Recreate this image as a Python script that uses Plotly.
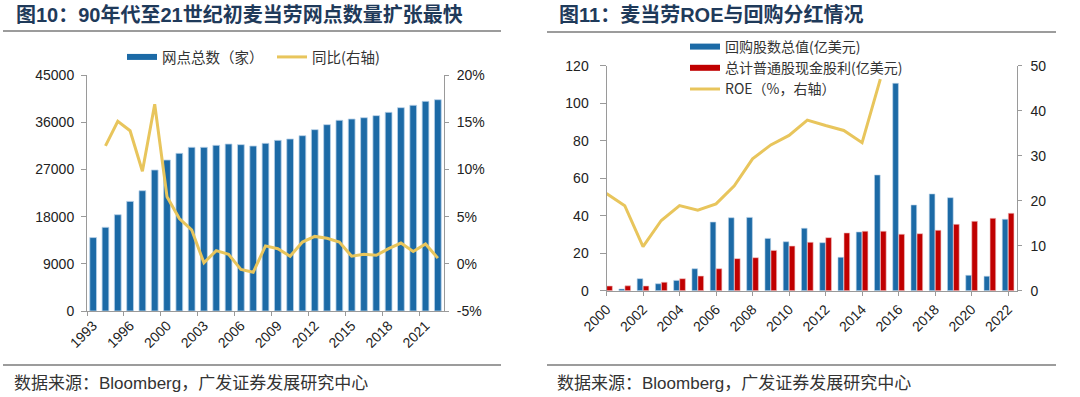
import plotly.graph_objects as go

W, H = 1080, 397

# ---------------- Left chart data (图10) ----------------
store_years = list(range(1993, 2022))
store_counts = [14000, 15960, 18360, 20900, 22940, 26890, 28790, 30060, 31210, 31210,
                31590, 31840, 31720, 31460, 31970, 32540, 32800, 33430, 34580, 35530,
                36360, 36610, 36860, 37250, 37880, 38770, 39220, 39980, 40290]
store_yoy = [None, 12.5, 15.1, 14.1, 9.8, 16.9, 7.1, 4.8, 3.6, 0.1,
             1.4, 1.0, -0.6, -0.9, 1.9, 1.6, 0.8, 2.3, 2.9, 2.7,
             2.3, 0.8, 1.0, 0.9, 1.6, 2.2, 1.3, 2.1, 0.6]
left_tick_labels = ["1993", "1996", "2000", "2003", "2006", "2009", "2012", "2015", "2018", "2021"]
left_y_ticks = [0, 9000, 18000, 27000, 36000, 45000]
left_y2_ticks = [-5, 0, 5, 10, 15, 20]
left_y2_labels = ["-5%", "0%", "5%", "10%", "15%", "20%"]

# ---------------- Right chart data (图11) ----------------
fin_years = list(range(2000, 2023))
buyback = [0, 0.9, 6.4, 3.7, 5.5, 11.7, 36.6, 38.9, 39.1, 27.9, 26.1, 33.3, 25.6,
           17.8, 31.3, 61.7, 110.6, 45.7, 51.6, 49.6, 8.2, 7.7, 38.1]
dividend = [2.5, 2.6, 2.5, 4.5, 6.4, 7.8, 11.7, 17.1, 17.6, 21.5, 23.8, 25.8, 28.3,
            30.8, 31.7, 31.7, 30.1, 30.4, 32.2, 35.4, 37.0, 38.6, 41.3]
roe = [21.6, 18.9, 9.8, 15.6, 18.9, 17.9, 19.3, 23.3, 29.3, 32.4, 34.5, 37.9, 36.7,
       35.6, 32.9, 47.0, None, None, None, None, None, None, None]

BLUE = "#1C6AA6"
RED = "#C00000"
GOLD = "#E8C55C"
AXIS = "#9A9A9A"
TXT = "#222222"
FONT = "Liberation Sans, Arial, Noto Sans CJK SC"
CJK = "Noto Sans CJK SC, Liberation Sans"

fig = go.Figure()

# left chart
xi = list(range(len(store_years)))
fig.add_trace(go.Bar(x=xi, y=store_counts, width=0.55, marker=dict(color=BLUE, line=dict(color="#B9D2E8", width=0.8)),
                     xaxis="x", yaxis="y", showlegend=False, name="网点总数（家）"))
fig.add_trace(go.Scatter(x=xi, y=store_yoy, mode="lines", line=dict(color=GOLD, width=3),
                         xaxis="x", yaxis="y2", showlegend=False, name="同比(右轴)"))
fig.add_trace(go.Scatter(x=[None], y=[None], mode="lines", line=dict(color=BLUE, width=6),
                         name="网点总数（家）", xaxis="x", yaxis="y", legend="legend"))
fig.add_trace(go.Scatter(x=[None], y=[None], mode="lines", line=dict(color=GOLD, width=3),
                         name="同比(右轴)", xaxis="x", yaxis="y", legend="legend"))

# right chart
xj = list(range(len(fin_years)))
fig.add_trace(go.Bar(x=xj, y=buyback, width=0.31, offset=-0.32, marker=dict(color=BLUE, line=dict(color="#B9D2E8", width=0.6)),
                     xaxis="x2", yaxis="y3", showlegend=False, name="回购股数总值(亿美元)"))
fig.add_trace(go.Bar(x=xj, y=dividend, width=0.31, offset=0.01, marker=dict(color=RED, line=dict(color="#F0C0C0", width=0.6)),
                     xaxis="x2", yaxis="y3", showlegend=False, name="总计普通股现金股利(亿美元)"))
fig.add_trace(go.Scatter(x=xj, y=roe, mode="lines", line=dict(color=GOLD, width=3),
                         xaxis="x2", yaxis="y4", showlegend=False, name="ROE（%，右轴）"))
fig.add_trace(go.Scatter(x=[None], y=[None], mode="lines", line=dict(color=BLUE, width=6),
                         name="回购股数总值(亿美元)", xaxis="x2", yaxis="y3", legend="legend2"))
fig.add_trace(go.Scatter(x=[None], y=[None], mode="lines", line=dict(color=RED, width=6),
                         name="总计普通股现金股利(亿美元)", xaxis="x2", yaxis="y3", legend="legend2"))
fig.add_trace(go.Scatter(x=[None], y=[None], mode="lines", line=dict(color=GOLD, width=3),
                         name="ROE（%，右轴）", xaxis="x2", yaxis="y3", legend="legend2"))

axis_common = dict(showgrid=False, zeroline=False, showline=True, linecolor=AXIS, linewidth=1,
                   tickcolor=AXIS, automargin=False, tickfont=dict(family=FONT, size=14, color=TXT))

fig.update_layout(
    width=W, height=397, margin=dict(l=0, r=0, t=0, b=0, autoexpand=False),
    paper_bgcolor="white", plot_bgcolor="white", barmode="overlay",
    xaxis=dict(domain=[87 / W, 444 / W], anchor="y", range=[-0.5, 28.5],
               tickmode="array", tickvals=xi[::3], ticktext=left_tick_labels, tickangle=-45,
               ticks="", minor=dict(tickmode="array", tickvals=[v - 0.5 for v in xi[::3]],
                                    ticks="outside", ticklen=4, tickcolor=AXIS),
               **axis_common),
    yaxis=dict(domain=[1 - 311 / H, 1 - 75 / H], anchor="x", range=[0, 45000],
               tickmode="array", tickvals=left_y_ticks, ticktext=[str(v) for v in left_y_ticks],
               ticks="outside", ticklen=5, ticklabelstandoff=4, **axis_common),
    yaxis2=dict(overlaying="y", side="right", anchor="x", range=[-5, 20],
                tickmode="array", tickvals=left_y2_ticks, ticktext=left_y2_labels,
                ticks="outside", ticklen=4, ticklabelstandoff=5, **axis_common),
    xaxis2=dict(domain=[606.5 / W, 1016.7 / W], anchor="y3", range=[0, 22.47],
                tickmode="array", tickvals=xj[::2], ticktext=[str(y) for y in fin_years[::2]],
                tickangle=-45, ticks="outside", ticklen=4, **axis_common),
    yaxis3=dict(domain=[1 - 290.7 / H, 1 - 65.7 / H], anchor="x2", range=[0, 120],
                tickmode="linear", tick0=0, dtick=20, ticks="outside", ticklen=6,
                ticklabelstandoff=8, **axis_common),
    yaxis4=dict(overlaying="y3", side="right", anchor="x2", range=[0, 50],
                tickmode="linear", tick0=0, dtick=10, ticks="outside", ticklen=4,
                ticklabelstandoff=6, **axis_common),
    legend=dict(orientation="h", x=122 / W, xanchor="left", y=1 - 57 / H, yanchor="middle",
                entrywidth=105, itemwidth=30, bgcolor="rgba(0,0,0,0)",
                font=dict(family=CJK, size=14.5, color="#333333")),
    legend2=dict(orientation="v", x=685 / W, xanchor="left", y=1 - 31 / H, yanchor="top",
                 itemwidth=30, bgcolor="rgba(0,0,0,0)", tracegroupgap=0,
                 font=dict(family=CJK, size=14, color="#333333")),
)

title_font = dict(family=FONT, size=20, color="#1F3A5A")
src_font = dict(family=FONT, size=17, color="#333333")
fig.add_annotation(text="<b>图10：90年代至21世纪初麦当劳网点数量扩张最快</b>", x=14 / W, y=1 - 15 / H,
                   xref="paper", yref="paper", xanchor="left", yanchor="middle", showarrow=False, font=title_font)
fig.add_annotation(text="<b>图11：麦当劳ROE与回购分红情况</b>", x=557 / W, y=1 - 15 / H,
                   xref="paper", yref="paper", xanchor="left", yanchor="middle", showarrow=False, font=title_font)
fig.add_annotation(text="数据来源：Bloomberg，广发证券发展研究中心", x=12 / W, y=1 - 383 / H,
                   xref="paper", yref="paper", xanchor="left", yanchor="middle", showarrow=False, font=src_font)
fig.add_annotation(text="数据来源：Bloomberg，广发证券发展研究中心", x=555 / W, y=1 - 383 / H,
                   xref="paper", yref="paper", xanchor="left", yanchor="middle", showarrow=False, font=src_font)
for (a, b, yy) in [(3, 501, 31), (547, 1056, 32), (3, 501, 365), (547, 1056, 365)]:
    fig.add_shape(type="line", xref="paper", yref="paper", x0=a / W, x1=b / W, y0=1 - yy / H, y1=1 - yy / H,
                  line=dict(color="#3A3A3A", width=1.2))

fig.write_html("out.html", config={"displayModeBar": False},
               post_script="document.body.style.margin='0';document.body.style.padding='0';")
